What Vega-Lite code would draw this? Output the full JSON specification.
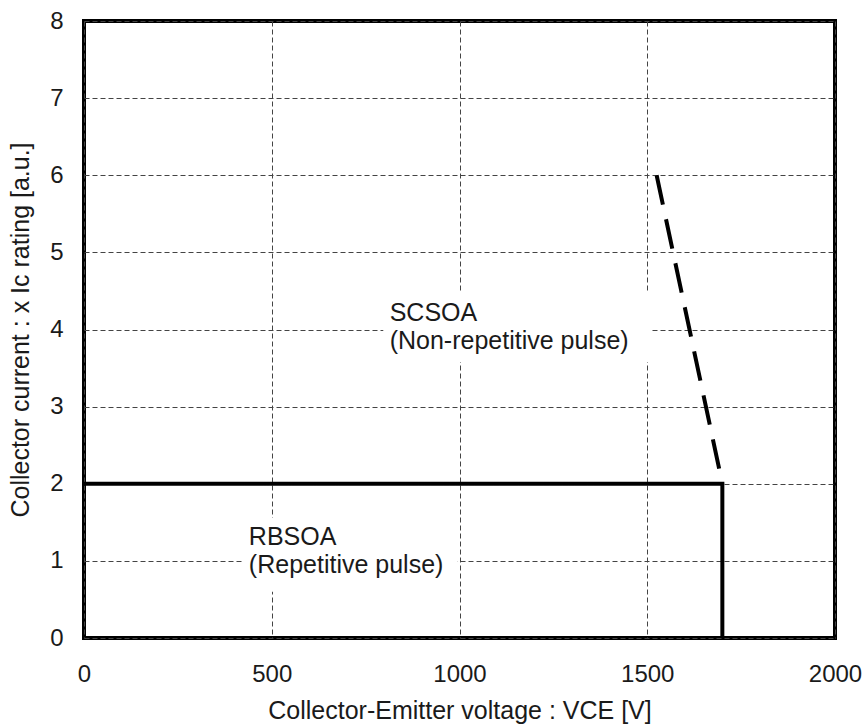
{
  "$schema": "https://vega.github.io/schema/vega-lite/v6.json",
  "autosize": "none",
  "width": 751,
  "height": 617,
  "padding": {"left": 84, "top": 21, "right": 31, "bottom": 90},
  "background": "white",
  "config": {
    "font": "Liberation Sans",
    "view": {"stroke": "black", "strokeWidth": 4},
    "axis": {
      "domain": false,
      "ticks": false,
      "tickSize": 0,
      "grid": true,
      "gridColor": "#444",
      "gridDash": [5, 3],
      "gridWidth": 1,
      "gridOpacity": 1,
      "labelFont": "Liberation Sans",
      "labelFontSize": 24,
      "labelColor": "#1a1a1a",
      "titleFont": "Liberation Sans",
      "titleFontSize": 25,
      "titleFontWeight": "normal",
      "titleColor": "#1a1a1a"
    }
  },
  "datasets": {
    "curves": [
      {"series": "RBSOA", "order": 1, "vce": 0, "ic": 2},
      {"series": "RBSOA", "order": 2, "vce": 1700, "ic": 2},
      {"series": "RBSOA", "order": 3, "vce": 1700, "ic": 0},
      {"series": "SCSOA", "order": 1, "vce": 1525, "ic": 6},
      {"series": "SCSOA", "order": 2, "vce": 1700, "ic": 2}
    ],
    "boxes": [
      {"x1": 797, "x2": 1512, "y1": 3.58, "y2": 4.49},
      {"x1": 423, "x2": 995, "y1": 0.6, "y2": 1.56}
    ],
    "labels": [
      {"vce": 814, "ic": 4.11, "text": "SCSOA"},
      {"vce": 814, "ic": 3.75, "text": "(Non-repetitive pulse)"},
      {"vce": 439, "ic": 1.206, "text": "RBSOA"},
      {"vce": 439, "ic": 0.843, "text": "(Repetitive pulse)"}
    ]
  },
  "layer": [
    {
      "data": {"name": "boxes"},
      "mark": {"type": "rect", "color": "white"},
      "encoding": {
        "x": {"field": "x1", "type": "quantitative", "scale": {"domain": [0, 2000], "nice": false},
              "axis": {"values": [0, 500, 1000, 1500, 2000], "format": "d", "labelPadding": 24, "titlePadding": 12, "labelFlush": false, "title": "Collector-Emitter voltage : VCE [V]"}},
        "x2": {"field": "x2"},
        "y": {"field": "y1", "type": "quantitative", "scale": {"domain": [0, 8], "nice": false},
              "axis": {"values": [0, 1, 2, 3, 4, 5, 6, 7, 8], "format": "d", "labelPadding": 21, "titlePadding": 16, "labelFlush": false, "title": "Collector current : x Ic rating [a.u.]"}},
        "y2": {"field": "y2"}
      }
    },
    {
      "data": {"name": "curves"},
      "mark": {"type": "line", "color": "black", "strokeWidth": 4, "strokeJoin": "miter", "strokeCap": "butt"},
      "encoding": {
        "x": {"field": "vce", "type": "quantitative"},
        "y": {"field": "ic", "type": "quantitative"},
        "order": {"field": "order"},
        "detail": {"field": "series"},
        "strokeDash": {
          "field": "series", "type": "nominal",
          "scale": {"domain": ["RBSOA", "SCSOA"], "range": [[1, 0], [30, 15]]},
          "legend": null
        }
      }
    },
    {
      "data": {"name": "labels"},
      "mark": {"type": "text", "align": "left", "baseline": "alphabetic", "fontSize": 25, "font": "Liberation Sans", "color": "#1a1a1a"},
      "encoding": {
        "x": {"field": "vce", "type": "quantitative"},
        "y": {"field": "ic", "type": "quantitative"},
        "text": {"field": "text"}
      }
    }
  ]
}
